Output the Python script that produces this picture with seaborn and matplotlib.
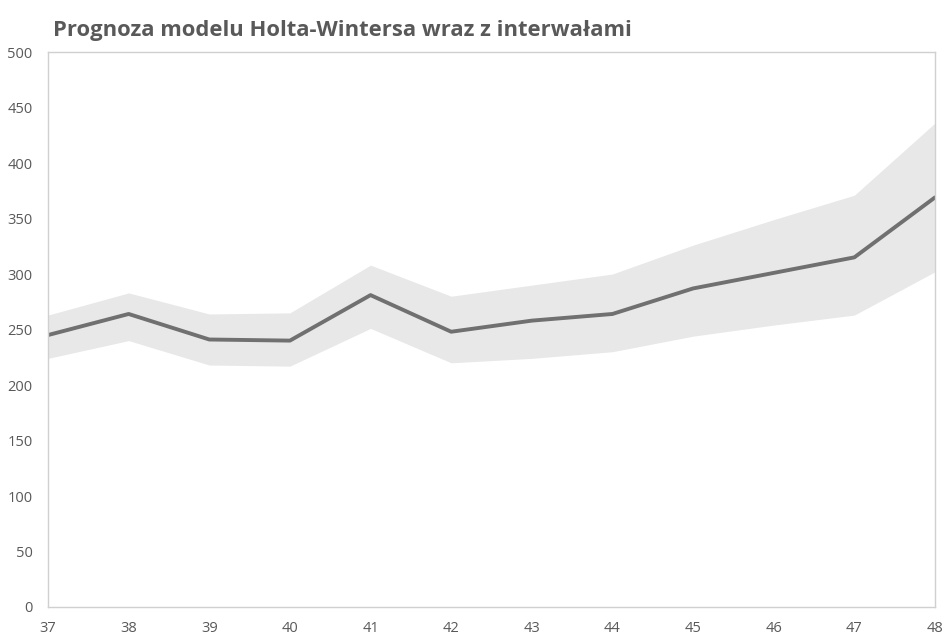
import numpy as np
import pandas as pd
import matplotlib
matplotlib.use('Agg')
import matplotlib.pyplot as plt
import seaborn as sns

# forecast periods and values
periods = [37, 38, 39, 40, 41, 42, 43, 44, 45, 46, 47, 48]
forecast = [245, 264, 241, 240, 281, 248, 258, 264, 287, 301, 315, 369]
upper = [263, 283, 264, 265, 308, 280, 290, 300, 326, 349, 371, 436]
lower = [224, 240, 218, 217, 251, 220, 224, 230, 244, 254, 263, 302]

df = pd.DataFrame({'okres': periods, 'prognoza': forecast,
                   'gorna': upper, 'dolna': lower})

sns.set_style('white')
plt.rcParams['font.family'] = ['Open Sans', 'DejaVu Sans']

fig = plt.figure(figsize=(9.47, 6.36), dpi=100)
ax = fig.add_axes([0.0507, 0.0456, 0.9366, 0.8726])

ax.fill_between(df['okres'], df['dolna'], df['gorna'], color='#e8e8e8', lw=0)
sns.lineplot(data=df, x='okres', y='prognoza', ax=ax, color='#707070', linewidth=2.8)

ax.set_xlim(37, 48)
ax.set_ylim(0, 500)
ax.set_xticks(periods)
ax.set_yticks(range(0, 501, 50))
ax.set_xlabel('')
ax.set_ylabel('')
ax.tick_params(axis='both', length=0, labelsize=10.5, colors='#595959')
ax.tick_params(axis='x', pad=10)
ax.tick_params(axis='y', pad=11)
for s in ax.spines.values():
    s.set_color('#d0d0d0')
    s.set_linewidth(1)

fig.text(0.056, 0.952, 'Prognoza modelu Holta-Wintersa wraz z interwałami',
         fontsize=15.8, fontweight='bold', color='#595959', va='center', ha='left')

fig.savefig('out.png', dpi=100)
